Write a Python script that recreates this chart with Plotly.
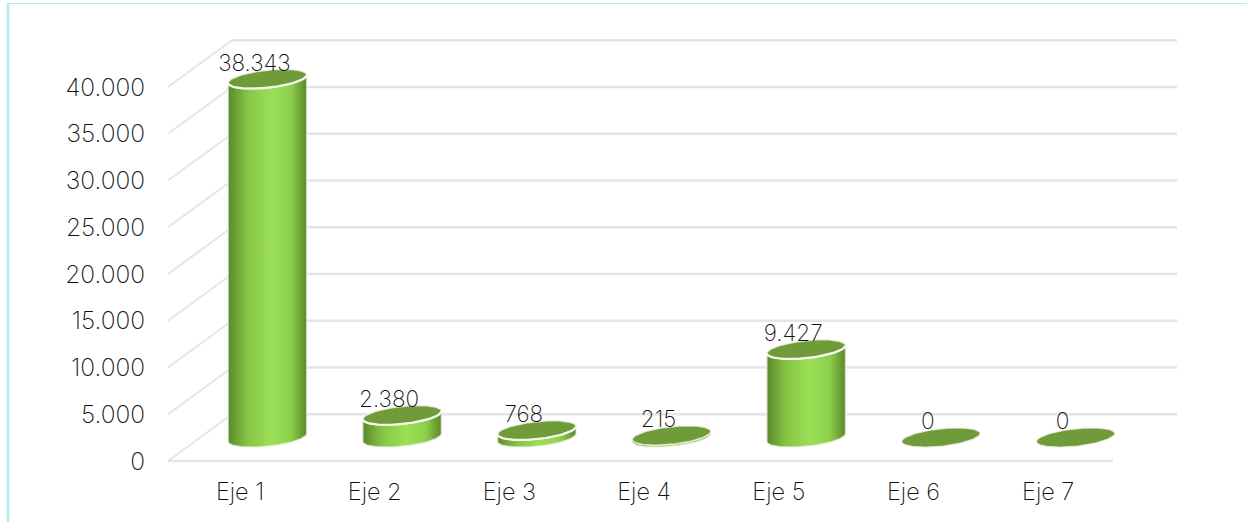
import numpy as np
import plotly.graph_objects as go

categories = ["Eje 1", "Eje 2", "Eje 3", "Eje 4", "Eje 5", "Eje 6", "Eje 7"]
values = [38343, 2380, 768, 215, 9427, 0, 0]
value_labels = ["38.343", "2.380", "768", "215", "9.427", "0", "0"]
y_ticks = [0, 5000, 10000, 15000, 20000, 25000, 30000, 35000, 40000]
y_tick_labels = ["0", "5.000", "10.000", "15.000", "20.000", "25.000", "30.000", "35.000", "40.000"]

W, H = 1247, 522
FONT = "Inter"
TEXT = "#111111"
GRID = "#e4e4ec"
TOP = "#6f9c38"
CYAN = "#aeeeee"
GRAD = [[0, "#5b8a2c"], [0.08, "#6a9c34"], [0.25, "#86c546"], [0.55, "#9ce056"],
        [0.8, "#8ccf4b"], [0.92, "#6fa436"], [1, "#5a872b"]]

# Scales: pixel position of category 0 and the pitch, pixels per value unit
PX0, PITCH = 240.0, 134.7
Y0_PX, PX_PER_UNIT = 461.0, 374.0 / 40000
x_range = [-PX0 / PITCH, (W - PX0) / PITCH]
y_range = [-(H - Y0_PX) / PX_PER_UNIT, Y0_PX / PX_PER_UNIT]
dx = lambda px: px / PITCH
dy = lambda px: px / PX_PER_UNIT

DEPTH_X, DEPTH_Y = dx(64), 5000        # oblique offset of the back wall
LEFT, RIGHT = dx(168) + x_range[0], dx(1113) + x_range[0]
BAR_DX, BAR_BASE = dx(27.4), dy(23.5)  # cylinder offset from the tick position
A, B, TILT = dx(39.3), dy(8.8), dy(4)  # ellipse half-width, half-height, tilt

fig = go.Figure()


def line(xs, ys, width=2.5, color=GRID):
    fig.add_trace(go.Scatter(x=xs, y=ys, mode="lines", hoverinfo="skip", showlegend=False,
                             line=dict(color=color, width=width)))


# Floor, back wall and side wall
line([LEFT, RIGHT], [0, 0])
line([LEFT + DEPTH_X, RIGHT + DEPTH_X], [DEPTH_Y, DEPTH_Y])
for v in y_ticks:
    line([LEFT, LEFT + DEPTH_X], [v, v + DEPTH_Y], width=2)
    if v:
        line([LEFT + DEPTH_X, RIGHT + DEPTH_X], [v + DEPTH_Y, v + DEPTH_Y])


def ellipse(cx, cy, t):
    return cx + A * np.cos(t), cy + TILT * np.cos(t) + B * np.sin(t)


# Cylinders
for i, v in enumerate(values):
    cx = i + BAR_DX
    base, top = BAR_BASE, BAR_BASE + v
    front = np.linspace(np.pi, 2 * np.pi, 50)   # lower half, left to right
    if v > 0:
        xb, yb = ellipse(cx, base, front)
        xt, yt = ellipse(cx, top, front)
        fig.add_trace(go.Scatter(
            x=np.r_[xt, xb[::-1], xt[0]], y=np.r_[yt, yb[::-1], yt[0]],
            mode="lines", fill="toself", hoverinfo="skip", showlegend=False,
            line=dict(color="rgba(235,240,228,0.7)", width=1.5),
            fillgradient=dict(type="horizontal", colorscale=GRAD, start=cx - A, stop=cx + A),
        ))
    t = np.linspace(0, 2 * np.pi, 120)
    xe, ye = ellipse(cx, top, t)
    fig.add_trace(go.Scatter(x=xe, y=ye, mode="lines", fill="toself", fillcolor=TOP,
                             hoverinfo="skip", showlegend=False,
                             line=dict(color="rgba(240,243,234,0.8)", width=1.5)))
    if v >= 500:
        xa, ya = ellipse(cx, top, front)
        line(xa, ya, width=2.2, color="#f6f8f0")

# Value labels
fig.add_trace(go.Scatter(
    x=[i + BAR_DX - dx(13) for i in range(len(values))],
    y=[BAR_BASE + v + dy(14) for v in values],
    text=value_labels, mode="text", textposition="middle center", hoverinfo="skip",
    showlegend=False, textfont=dict(family=FONT, size=22.5, color="#111111", weight=200),
))

# Frame
shapes = [
    dict(type="line", xref="paper", yref="paper", x0=8 / W, x1=8 / W, y0=0, y1=1 - 3 / H,
         line=dict(color=CYAN, width=2.5)),
    dict(type="line", xref="paper", yref="paper", x0=7 / W, x1=1, y0=1 - 3.5 / H, y1=1 - 3.5 / H,
         line=dict(color=CYAN, width=1.2)),
]

fig.update_layout(
    width=W, height=H, margin=dict(l=0, r=0, t=0, b=0),
    paper_bgcolor="white", plot_bgcolor="white", showlegend=False, shapes=shapes,
    font=dict(family=FONT, color=TEXT),
    xaxis=dict(range=x_range, domain=[0, 1], anchor="free", position=(H - Y0_PX) / H,
               tickmode="array", tickvals=list(range(len(categories))), ticktext=categories,
               showgrid=False, zeroline=False, showline=False, ticks="outside", ticklen=10,
               tickcolor="rgba(0,0,0,0)", tickfont=dict(family=FONT, size=23.5, color=TEXT, weight=200)),
    yaxis=dict(range=y_range, domain=[0, 1], anchor="free", position=168 / W,
               tickmode="array", tickvals=y_ticks, ticktext=y_tick_labels,
               showgrid=False, zeroline=False, showline=False, ticks="outside", ticklen=18,
               tickcolor="rgba(0,0,0,0)", tickfont=dict(family=FONT, size=24.5, color=TEXT, weight=200)),
)

fig.write_html("out.html", config=dict(displayModeBar=False),
               post_script="document.body.style.margin='0';document.body.style.overflow='hidden';")
